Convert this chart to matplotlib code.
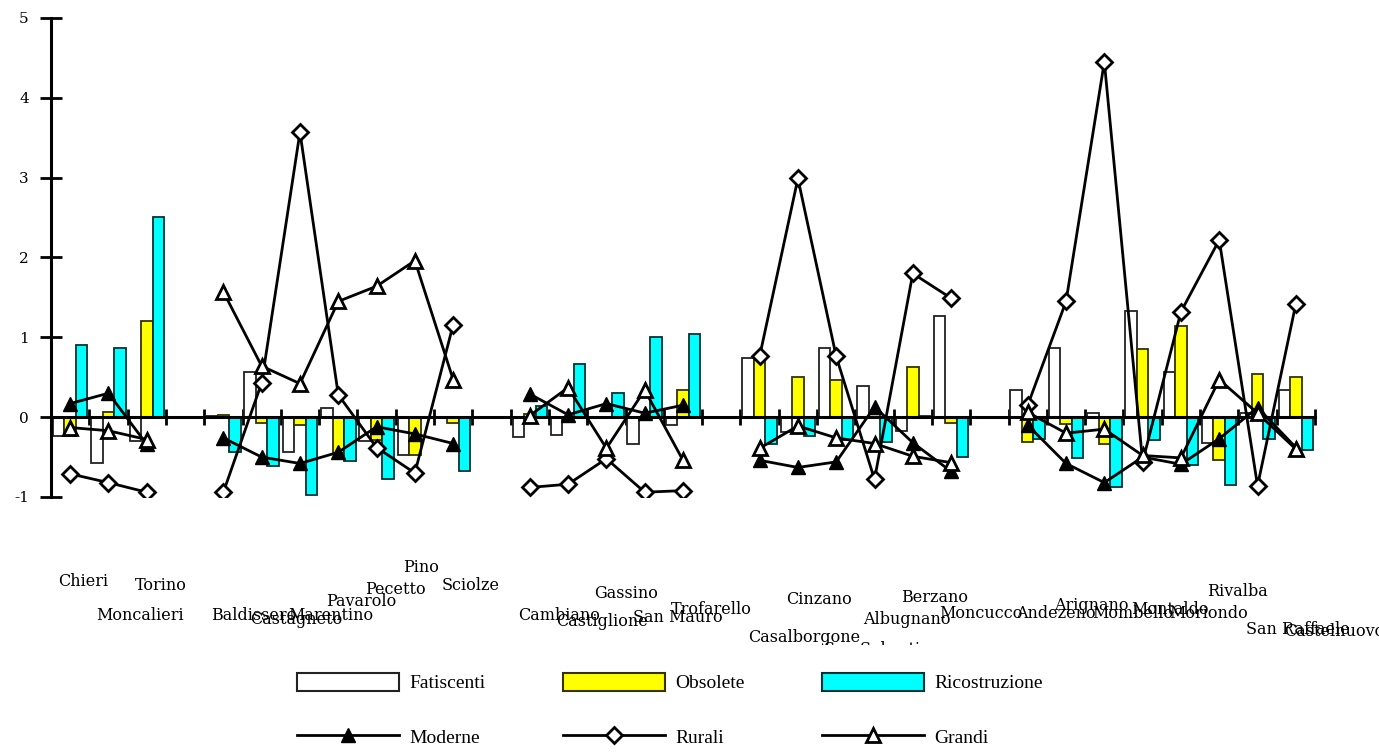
import numpy as np
import matplotlib
matplotlib.use("Agg")
import matplotlib.pyplot as plt
from matplotlib.patches import Patch
from matplotlib.lines import Line2D
from matplotlib.transforms import Bbox

nan = np.nan

categories = ["Chieri", "Moncalieri", "Torino", "",
              "Baldissero", "Castagneto", "Marentino", "Pavarolo", "Pecetto", "Pino", "Sciolze", "",
              "Cambiano", "Castiglione", "Gassino", "San Mauro", "Trofarello", "",
              "Casalborgone", "Cinzano", "San Sebastiano", "Albugnano", "Berzano", "Moncucco", "",
              "Andezeno", "Arignano", "Mombello", "Montaldo", "Moriondo", "Rivalba", "San Raffaele", "Castelnuovo"]

fatiscenti = [-0.24, -0.58, -0.30, nan,
              0.02, 0.57, -0.44, 0.12, -0.30, -0.48, 0.0, nan,
              -0.25, -0.22, 0.0, -0.34, -0.10, nan,
              0.74, -0.18, 0.87, 0.39, -0.17, 1.27, nan,
              0.34, 0.87, 0.05, 1.33, 0.57, -0.32, 0.05, 0.34]

obsolete = [-0.24, 0.07, 1.21, nan,
            0.03, -0.07, -0.10, -0.45, -0.28, -0.48, -0.07, nan,
            0.04, 0.0, 0.0, 0.0, 0.34, nan,
            0.72, 0.50, 0.46, 0.05, 0.63, -0.07, nan,
            -0.31, -0.09, -0.34, 0.86, 1.14, -0.54, 0.54, 0.50]

ricostruzione = [0.90, 0.87, 2.51, nan,
                 -0.44, -0.61, -0.98, -0.55, -0.78, 0.0, -0.68, nan,
                 0.14, 0.66, 0.30, 1.00, 1.04, nan,
                 -0.34, -0.24, -0.29, -0.31, 0.02, -0.50, nan,
                 -0.27, -0.51, -0.88, -0.29, -0.60, -0.85, -0.27, -0.41]

moderne = [0.17, 0.30, -0.34, nan,
           -0.26, -0.50, -0.58, -0.44, -0.12, -0.21, -0.33, nan,
           0.29, 0.03, 0.17, 0.05, 0.15, nan,
           -0.54, -0.63, -0.56, 0.13, -0.32, -0.68, nan,
           -0.10, -0.58, -0.82, -0.50, -0.59, -0.27, 0.12, -0.38]

rurali = [-0.71, -0.82, -0.94, nan,
          -0.94, 0.43, 3.57, 0.28, -0.38, -0.70, 1.16, nan,
          -0.88, -0.84, -0.52, -0.94, -0.92, nan,
          0.76, 2.99, 0.76, -0.78, 1.80, 1.49, nan,
          0.15, 1.45, 4.45, -0.56, 1.32, 2.22, -0.86, 1.42]

grandi = [-0.13, -0.17, -0.28, nan,
          1.57, 0.64, 0.42, 1.45, 1.64, 1.96, 0.47, nan,
          0.02, 0.37, -0.39, 0.34, -0.54, nan,
          -0.39, -0.11, -0.26, -0.33, -0.49, -0.57, nan,
          0.06, -0.20, -0.15, -0.48, -0.51, 0.47, 0.05, -0.40]

yticks = [-1, 0, 1, 2, 3, 4, 5]

# label layout (pixel rows of each category name, from top of figure)
label_rows = [582, 615, 586, 0,
              615, 620, 615, 602, 589, 567, 586, 0,
              615, 621, 594, 618, 610, 0,
              637, 599, 650, 620, 598, 614, 0,
              613, 605, 613, 610, 613, 591, 629, 631]

W, H = 1379, 752
fig = plt.figure(figsize=(W / 100, H / 100), dpi=100)
ax_left, ax_right, ax_top, ax_bot = 51, 1315, 18, 497
ax = fig.add_axes([ax_left / W, (H - ax_bot) / H, (ax_right - ax_left) / W, (ax_bot - ax_top) / H])

x = np.arange(len(categories))
bw = 0.3
ax.bar(x - bw, fatiscenti, width=bw, color="white", edgecolor="#222222", linewidth=1.3, zorder=2)
ax.bar(x, obsolete, width=bw, color="#ffff00", edgecolor="#333300", linewidth=1.3, zorder=2)
ax.bar(x + bw, ricostruzione, width=bw, color="#00ffff", edgecolor="#003333", linewidth=1.3, zorder=2)

lw = 2.0
ax.plot(x, moderne, color="black", lw=lw, marker="^", ms=10, mfc="black", mec="black", zorder=4)
ax.plot(x, rurali, color="black", lw=lw, marker="D", ms=8, mfc="white", mec="black", mew=2, zorder=4)
ax.plot(x, grandi, color="black", lw=lw, marker="^", ms=10, mfc="white", mec="black", mew=2, zorder=4)

ax.set_xlim(-0.5, len(categories) - 0.5)
ax.set_ylim(-1, 5)
ax.set_yticks(yticks)
ax.set_yticklabels([str(v) for v in yticks], fontfamily="DejaVu Serif", fontsize=11)
ax.set_xticks(np.arange(-0.5, len(categories), 1.0))
ax.set_xticklabels([])
ax.tick_params(axis="x", direction="inout", length=12, width=2)
ax.tick_params(axis="y", direction="inout", length=16, width=2, pad=8)
for s in ["top", "right"]:
    ax.spines[s].set_visible(False)
ax.spines["bottom"].set_position(("data", 0))
ax.spines["bottom"].set_linewidth(2.2)
ax.spines["left"].set_linewidth(2.2)
ax.spines["bottom"].set_zorder(3)

# category names
clip = Bbox.from_extents(0, H - 645, W, H)
axh = ax_bot - ax_top
xt = ax.get_xaxis_transform()
for i, name in enumerate(categories):
    if not name:
        continue
    yf = (ax_bot - label_rows[i]) / axh
    t = ax.text(i - 0.31, yf, name, transform=xt, ha="left", va="center",
                fontfamily="DejaVu Serif", fontsize=11.5, clip_on=False)
    t.set_clip_box(clip)
    t.set_clip_on(True)

handles = [
    Patch(facecolor="white", edgecolor="#222222", linewidth=1.5, label="Fatiscenti"),
    Line2D([], [], color="black", lw=2, marker="^", ms=10, mfc="black", label="Moderne"),
    Patch(facecolor="#ffff00", edgecolor="#333300", linewidth=1.5, label="Obsolete"),
    Line2D([], [], color="black", lw=2, marker="D", ms=8, mfc="white", mew=2, label="Rurali"),
    Patch(facecolor="#00ffff", edgecolor="#003333", linewidth=1.5, label="Ricostruzione"),
    Line2D([], [], color="black", lw=2, marker="^", ms=10, mfc="white", mew=2, label="Grandi"),
]
leg = fig.legend(handles=handles, ncol=3, loc="center", bbox_to_anchor=(670 / W, 1 - 710 / H),
                 frameon=False, prop={"family": "Liberation Serif", "size": 14},
                 handlelength=5.25, handleheight=1.0, handletextpad=0.55, columnspacing=3.95,
                 labelspacing=1.8, numpoints=1)

fig.savefig("out.png", dpi=100)
